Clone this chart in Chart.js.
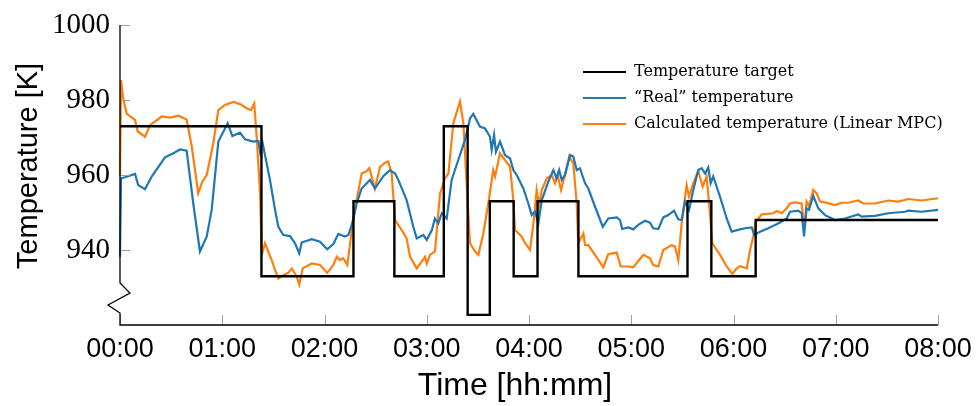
<!DOCTYPE html>
<html>
<head>
<meta charset="utf-8">
<script src="https://cdn.jsdelivr.net/npm/chart.js@4.4.1/dist/chart.umd.min.js"></script>
<style>
  html, body { margin: 0; padding: 0; background: #fff; }
  #wrap { width: 976px; height: 406px; }
</style>
</head>
<body>
<div id="wrap"><canvas id="grafico" width="976" height="406"></canvas></div>
<script>
// time in minutes from 00:00
var hourLabels = ['00:00','01:00','02:00','03:00','04:00','05:00','06:00','07:00','08:00'];
var yTicks = [940, 960, 980, 1000];

var targetTime = [0, 83, 137, 161, 190, 204, 217, 231, 245, 269, 333, 347, 373, 480];
var targetTemp = [973, 933, 953, 933, 973, 922.7, 953, 933, 953, 933, 953, 933, 948, 948];

var realTime = [0,0.6,2.9,8.8,10.7,14.7,18.6,26.4,31.3,35.2,39.1,43.0,46.9,50.9,53.8,57.7,63.2,65.9,70.4,73.4,
  78.2,81.2,82.2,83.5,88.0,91.0,92.9,95.8,99.8,102.7,105.2,106.6,112.5,117.4,121.6,125.2,128.1,132.0,134.0,136.0,
  138.9,141.8,146.7,149.6,154.5,158.4,161.4,163.3,168.2,172.1,174.1,178.0,180.0,183.0,184.8,186.8,188.8,191.7,194.6,198.5,
  202.4,205.4,207.3,211.2,214.2,217.1,218.1,219.5,220.6,223.0,225.9,228.9,230.8,232.8,236.7,239.6,241.6,243.5,245.5,247.5,
  251.3,254.3,256.2,257.7,259.2,261.1,264.1,266.0,268.0,269.9,272.9,274.8,278.7,283.3,286.5,291.5,293.4,294.7,298.3,301.2,
  304.1,308.1,311.0,312.9,315.9,318.8,321.7,325.1,327.6,329.6,331.5,333.9,336.4,339.3,341.3,343.3,345.2,346.6,348.1,352.1,
  356.0,358.9,363.8,366.8,370.7,372.2,375.6,380.4,384.4,387.3,391.2,393.2,398.0,400.0,401.4,402.9,404.3,406.8,409.8,413.7,
  419.6,425.4,433.2,435.2,443.0,450.8,460.6,462.6,470.4,480];
var realTemp = [938.2,959.1,959.4,960.3,957.3,956.2,959.6,964.7,965.8,966.8,966.5,952.4,939.6,943.6,950.7,968.9,973.8,970.4,971.3,969.5,
  968.9,969.1,966.2,968.9,958.7,950.7,946.2,944.0,943.7,941.8,939.1,942.0,942.9,942.2,940.2,941.6,944.3,943.6,944.0,946.7,
  952.4,956.4,958.7,956.4,959.7,961.3,960.4,958.7,953.3,946.2,943.1,944.0,942.7,945.3,948.4,947.1,949.8,948.4,958.7,964.0,
  969.3,975.1,976.3,972.9,972.4,970.2,966.7,970.7,966.2,968.9,965.3,964.4,961.3,960.0,956.4,952.4,949.3,950.2,947.1,953.3,
  958.2,961.3,959.1,961.3,958.7,960.0,965.3,964.9,961.3,961.8,957.8,956.4,951.6,946.2,948.4,948.7,948.0,945.6,946.0,945.5,
  946.7,947.8,947.3,945.8,945.6,948.7,949.3,950.5,948.2,948.0,952.9,950.7,956.0,961.3,961.8,960.4,962.0,957.8,959.6,954.2,
  948.4,944.9,945.5,945.8,946.0,944.0,944.9,945.8,946.7,947.3,948.4,950.2,950.5,949.8,943.6,951.1,950.7,954.4,951.1,949.3,
  948.0,948.4,949.5,948.9,949.1,949.8,950.2,950.5,950.2,950.7];

var calcTime = [0,0.6,1.9,3.9,8.8,10.4,14.7,17.6,24.5,29.3,34.2,39.1,42.1,45.9,48.3,50.9,54.7,57.7,61.6,66.5,
  70.4,74.3,76.9,78.8,80.2,82.2,83.2,85.1,89.0,91.0,92.9,95.8,98.8,100.8,103.7,105.2,107.2,112.5,117.4,121.6,
  125.2,127.2,129.1,131.0,133.4,136.0,138.5,141.8,144.4,146.3,149.6,152.6,155.5,157.4,159.4,161.4,165.3,168.2,170.2,174.1,
  177.0,179.0,180.0,181.9,184.8,187.8,190.7,192.7,195.6,199.5,201.5,203.4,205.4,208.3,210.3,213.2,216.1,219.0,220.1,223.0,
  225.9,228.9,230.8,231.8,235.7,237.7,240.6,242.6,244.5,245.9,247.5,250.4,253.3,255.3,256.8,258.8,261.1,263.6,266.0,268.0,
  268.9,271.9,272.9,274.8,278.7,283.6,286.5,291.5,293.8,298.3,301.2,307.1,311.0,312.9,315.9,318.8,323.7,325.7,327.6,329.6,
  332.5,333.9,336.4,339.3,341.9,344.2,346.2,347.5,352.1,356.0,359.3,361.9,363.8,367.8,369.7,371.6,373.1,376.6,383.4,385.4,
  388.4,391.2,393.2,396.1,400.0,401.4,402.9,404.3,406.8,408.8,410.8,413.7,419.6,423.5,427.4,433.2,436.2,443.0,450.8,456.7,
  462.6,470.4,480];
var calcTemp = [959.6,985.3,980.4,976.4,974.7,971.6,970.2,973.3,975.6,975.3,975.8,974.8,967.6,955.1,958.2,960.0,968.4,977.3,978.7,979.5,
  978.9,977.8,977.3,979.1,970.2,955.1,938.7,941.8,937.3,934.7,932.4,933.3,933.9,935.1,932.9,930.8,935.1,936.4,936.0,933.9,
  936.0,938.2,937.3,937.8,936.0,945.3,952.4,960.4,960.9,961.8,956.4,962.2,963.3,963.6,960.4,948.0,945.3,943.1,938.2,935.1,
  936.9,938.2,936.4,938.7,939.6,955.1,959.1,960.4,973.8,979.6,973.8,957.8,941.8,939.6,938.7,944.4,952.4,961.3,959.6,965.8,
  964.0,962.2,953.3,945.3,943.6,941.8,940.0,947.1,956.0,952.0,956.0,959.1,960.0,957.8,960.0,956.0,960.0,964.9,963.1,952.4,
  941.8,944.4,941.3,941.3,938.7,935.4,938.9,939.3,935.6,935.6,935.4,938.7,937.8,936.0,935.6,940.0,941.3,940.9,937.3,947.1,
  957.3,954.2,957.8,961.1,956.9,959.6,949.8,941.8,938.7,935.6,933.6,935.1,935.7,935.1,940.0,943.6,947.6,949.5,949.8,950.4,
  949.8,951.1,952.4,952.7,952.4,945.5,952.9,951.6,956.0,955.1,952.9,952.7,952.0,952.6,952.6,953.2,952.4,952.4,953.2,952.9,
  953.6,953.2,953.8];

function pts(xs, ys) {
  var out = [];
  for (var i in xs) out.push({x: xs[i], y: ys[i]});
  return out;
}

var sansFont = "'Liberation Sans', 'DejaVu Sans', sans-serif";
var serifFont = "'DejaVu Serif', serif";

// axes with break, inner tick marks, titles and legend
var decor = {
  id: 'decor',
  afterDatasetsDraw: function(chart) {
    var ctx = chart.ctx;
    var a = chart.chartArea;
    var xs = chart.scales.x, ys = chart.scales.y;
    ctx.save();
    // tick marks (inside)
    ctx.strokeStyle = '#a0a0a0';
    ctx.lineWidth = 1;
    for (var i = 0; i < yTicks.length; i++) {
      var py = Math.round(ys.getPixelForValue(yTicks[i])) + 0.5;
      ctx.beginPath(); ctx.moveTo(a.left, py); ctx.lineTo(a.left + 10, py); ctx.stroke();
    }
    for (var h = 0; h < hourLabels.length; h++) {
      var px = Math.round(xs.getPixelForValue(h * 60)) + 0.5;
      ctx.beginPath(); ctx.moveTo(px, a.bottom); ctx.lineTo(px, a.bottom - 10); ctx.stroke();
    }
    // axis lines
    ctx.strokeStyle = '#000';
    ctx.lineWidth = 1.3;
    ctx.beginPath();
    ctx.moveTo(a.left, a.top);
    ctx.lineTo(a.left, a.bottom - 42);
    ctx.lineTo(a.left + 10, a.bottom - 32);
    ctx.lineTo(a.left - 12, a.bottom - 20);
    ctx.lineTo(a.left, a.bottom - 12);
    ctx.lineTo(a.left, a.bottom);
    ctx.lineTo(a.right, a.bottom);
    ctx.stroke();

    // axis titles
    ctx.fillStyle = '#000';
    ctx.textAlign = 'center';
    ctx.textBaseline = 'middle';
    ctx.font = '32px ' + sansFont;
    ctx.fillText('Time [hh:mm]', 515, 386);
    ctx.font = '29px ' + sansFont;
    ctx.translate(29, 166);
    ctx.rotate(-Math.PI / 2);
    ctx.fillText('Temperature [K]', 0, 0);
    ctx.restore();

    // legend
    ctx.save();
    ctx.font = '16px ' + serifFont;
    ctx.textAlign = 'left';
    ctx.textBaseline = 'middle';
    var ds = chart.data.datasets;
    for (var k = 0; k < ds.length; k++) {
      var ly = 72 + k * 26;
      ctx.strokeStyle = ds[k].borderColor;
      ctx.lineWidth = 2;
      ctx.beginPath(); ctx.moveTo(583, ly); ctx.lineTo(626, ly); ctx.stroke();
      ctx.fillStyle = '#000';
      ctx.fillText(ds[k].label, 634, ly);
    }
    ctx.restore();
  }
};

var ctx = document.getElementById('grafico');

var chartdata = {
  datasets: [
    {
      label: 'Temperature target',
      data: pts(targetTime, targetTemp),
      borderColor: '#000000',
      borderWidth: 2.4,
      stepped: 'before',
      pointRadius: 0,
      clip: false
    },
    {
      label: '\u201CReal\u201D temperature',
      data: pts(realTime, realTemp),
      borderColor: '#1f77b4',
      borderWidth: 2.2,
      pointRadius: 0,
      clip: false
    },
    {
      label: 'Calculated temperature (Linear MPC)',
      data: pts(calcTime, calcTemp),
      borderColor: '#ff7f0e',
      borderWidth: 2.2,
      pointRadius: 0,
      clip: false
    }
  ]
};

var lineGraph = new Chart(ctx, {
  type: 'line',
  data: chartdata,
  plugins: [decor],
  options: {
    responsive: false,
    animation: false,
    layout: { padding: { top: 25, right: 38, left: 0, bottom: 0 } },
    plugins: { legend: { display: false }, tooltip: { enabled: false } },
    scales: {
      x: {
        type: 'linear',
        min: 0,
        max: 480,
        grid: { display: false, drawTicks: false },
        border: { display: false },
        afterFit: function(scale) {
          scale.height = 81;
          scale.paddingLeft = 0;
          scale.paddingRight = 0;
        },
        ticks: {
          stepSize: 60,
          padding: 8,
          color: '#000',
          maxRotation: 0,
          font: { family: sansFont, size: 27 },
          callback: function(v, i) { return hourLabels[i]; }
        }
      },
      y: {
        min: 920,
        max: 1000,
        grid: { display: false, drawTicks: false },
        border: { display: false },
        afterFit: function(scale) {
          scale.width = 120;
          scale.paddingTop = 0;
          scale.paddingBottom = 0;
        },
        afterBuildTicks: function(scale) {
          scale.ticks = yTicks.map(function(v) { return {value: v}; });
        },
        ticks: {
          padding: 10,
          color: '#000',
          font: { family: "'Liberation Serif', serif", size: 29 },
          callback: function(v) { return String(v); }
        }
      }
    }
  }
});
</script>
</body>
</html>
